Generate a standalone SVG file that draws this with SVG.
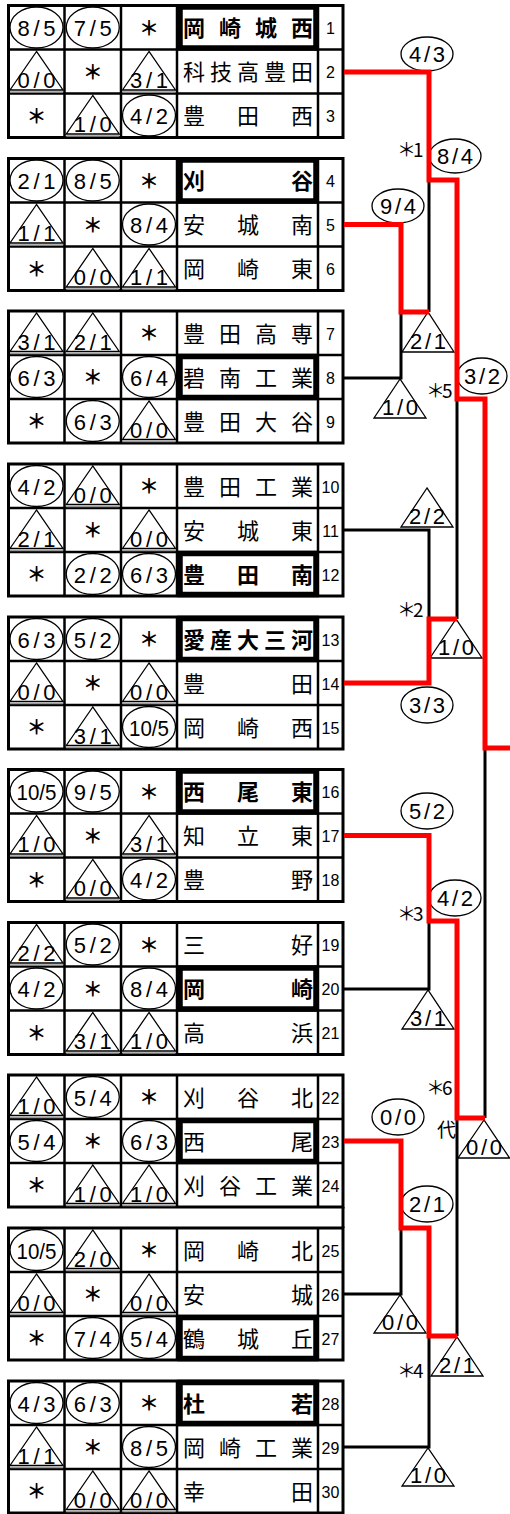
<svg xmlns="http://www.w3.org/2000/svg" width="510" height="1514" viewBox="0 0 510 1514">
<style>
.ln{stroke:#000;stroke-width:3;fill:none}
.in{stroke:#000;stroke-width:2.5}
.box{fill:none;stroke:#000;stroke-width:5.5}
.el{fill:#fff;stroke:#000;stroke-width:1.3}
.tri polygon{fill:#fff;stroke:#000;stroke-width:1.3}
.tri line{stroke:#999;stroke-width:1.5}
.sc{font-family:"Liberation Sans",Arial,sans-serif;font-size:22px;text-anchor:middle}
.ast{font-family:"Noto Sans CJK JP",sans-serif;font-size:20px;font-weight:700;text-anchor:middle}
.nm{font-family:"Noto Sans CJK JP",sans-serif;font-size:22px}
.b{font-weight:700}
.no{font-family:"Liberation Sans",Arial,sans-serif;font-size:16px;text-anchor:middle}
.red{stroke:#f00;stroke-width:5;fill:none}
.blk{stroke:#000;stroke-width:3;fill:none}
.lb{font-family:"Noto Sans CJK JP",sans-serif;font-size:19px}
.bt{fill:#fff;stroke:#000;stroke-width:1.3}
</style>
<defs>
<ellipse id="E" class="el" cx="36.5" cy="22" rx="26.5" ry="20.5"/>
<g id="T" class="tri"><polygon points="36.5,2 10,40.5 63,40.5"/><line x1="10" x2="63" y1="42.5" y2="42.5"/></g>
<g id="grid">
<rect class="ln" x="8.5" y="0" width="334.5" height="132"/>
<line class="in" x1="64.5" x2="64.5" y1="0" y2="132"/>
<line class="in" x1="121" x2="121" y1="0" y2="132"/>
<line class="in" x1="177" x2="177" y1="0" y2="132"/>
<line class="in" x1="318" x2="318" y1="0" y2="132"/>
<line class="in" x1="8.5" x2="343" y1="44" y2="44"/>
<line class="in" x1="8.5" x2="343" y1="88" y2="88"/>
</g>
</defs>
<rect width="510" height="1514" fill="#fff"/>

<g id="table-grid">
<use href="#grid" y="5.5"/>
<use href="#grid" y="158.5"/>
<use href="#grid" y="311"/>
<use href="#grid" y="464"/>
<use href="#grid" y="617"/>
<use href="#grid" y="769.5"/>
<use href="#grid" y="922.5"/>
<use href="#grid" y="1075"/>
<use href="#grid" y="1228"/>
<use href="#grid" y="1381"/>
<line class="ln" x1="343" x2="343" y1="1207" y2="1228"/>
</g>

<!-- Block 1 -->
<g id="team1" transform="translate(0,5.5)">
<use href="#E"/><text class="sc" x="36.5" y="30.5" textLength="38" lengthAdjust="spacing">8/5</text>
<use href="#E" x="56.25"/><text class="sc" x="92.75" y="30.5" textLength="38" lengthAdjust="spacing">7/5</text>
<text class="ast" x="149" y="30">＊</text>
<rect class="box" x="180" y="1.5" width="136" height="41"/>
<text class="nm b" x="183 219 255 291" y="30.5">岡崎城西</text>
<text class="no" x="330.5" y="28.5">1</text>
</g>
<g id="team2" transform="translate(0,49.5)">
<use href="#T"/><text class="sc" x="36.5" y="38.5" textLength="38" lengthAdjust="spacing">0/0</text>
<text class="ast" x="92.75" y="30">＊</text>
<use href="#T" x="112.5"/><text class="sc" x="149" y="38.5" textLength="38" lengthAdjust="spacing">3/1</text>
<text class="nm" x="183 210 237 264 291" y="30.5">科技高豊田</text>
<text class="no" x="330.5" y="28.5">2</text>
</g>
<g id="team3" transform="translate(0,93.5)">
<text class="ast" x="36.5" y="30">＊</text>
<use href="#T" x="56.25"/><text class="sc" x="92.75" y="38.5" textLength="38" lengthAdjust="spacing">1/0</text>
<use href="#E" x="112.5"/><text class="sc" x="149" y="30.5" textLength="38" lengthAdjust="spacing">4/2</text>
<text class="nm" x="183 237 291" y="30.5">豊田西</text>
<text class="no" x="330.5" y="28.5">3</text>
</g>

<!-- Block 2 -->
<g id="team4" transform="translate(0,158.5)">
<use href="#E"/><text class="sc" x="36.5" y="30.5" textLength="38" lengthAdjust="spacing">2/1</text>
<use href="#E" x="56.25"/><text class="sc" x="92.75" y="30.5" textLength="38" lengthAdjust="spacing">8/5</text>
<text class="ast" x="149" y="30">＊</text>
<rect class="box" x="180" y="1.5" width="136" height="41"/>
<text class="nm b" x="183 291" y="30.5">刈谷</text>
<text class="no" x="330.5" y="28.5">4</text>
</g>
<g id="team5" transform="translate(0,202.5)">
<use href="#T"/><text class="sc" x="36.5" y="38.5" textLength="38" lengthAdjust="spacing">1/1</text>
<text class="ast" x="92.75" y="30">＊</text>
<use href="#E" x="112.5"/><text class="sc" x="149" y="30.5" textLength="38" lengthAdjust="spacing">8/4</text>
<text class="nm" x="183 237 291" y="30.5">安城南</text>
<text class="no" x="330.5" y="28.5">5</text>
</g>
<g id="team6" transform="translate(0,246.5)">
<text class="ast" x="36.5" y="30">＊</text>
<use href="#T" x="56.25"/><text class="sc" x="92.75" y="38.5" textLength="38" lengthAdjust="spacing">0/0</text>
<use href="#T" x="112.5"/><text class="sc" x="149" y="38.5" textLength="38" lengthAdjust="spacing">1/1</text>
<text class="nm" x="183 237 291" y="30.5">岡崎東</text>
<text class="no" x="330.5" y="28.5">6</text>
</g>

<!-- Block 3 -->
<g id="team7" transform="translate(0,311)">
<use href="#T"/><text class="sc" x="36.5" y="38.5" textLength="38" lengthAdjust="spacing">3/1</text>
<use href="#T" x="56.25"/><text class="sc" x="92.75" y="38.5" textLength="38" lengthAdjust="spacing">2/1</text>
<text class="ast" x="149" y="30">＊</text>
<text class="nm" x="183 219 255 291" y="30.5">豊田高専</text>
<text class="no" x="330.5" y="28.5">7</text>
</g>
<g id="team8" transform="translate(0,355)">
<use href="#E"/><text class="sc" x="36.5" y="30.5" textLength="38" lengthAdjust="spacing">6/3</text>
<text class="ast" x="92.75" y="30">＊</text>
<use href="#E" x="112.5"/><text class="sc" x="149" y="30.5" textLength="38" lengthAdjust="spacing">6/4</text>
<rect class="box" x="180" y="1.5" width="136" height="41"/>
<text class="nm" x="183 219 255 291" y="30.5">碧南工業</text>
<text class="no" x="330.5" y="28.5">8</text>
</g>
<g id="team9" transform="translate(0,399)">
<text class="ast" x="36.5" y="30">＊</text>
<use href="#E" x="56.25"/><text class="sc" x="92.75" y="30.5" textLength="38" lengthAdjust="spacing">6/3</text>
<use href="#T" x="112.5"/><text class="sc" x="149" y="38.5" textLength="38" lengthAdjust="spacing">0/0</text>
<text class="nm" x="183 219 255 291" y="30.5">豊田大谷</text>
<text class="no" x="330.5" y="28.5">9</text>
</g>

<!-- Block 4 -->
<g id="team10" transform="translate(0,464)">
<use href="#E"/><text class="sc" x="36.5" y="30.5" textLength="38" lengthAdjust="spacing">4/2</text>
<use href="#T" x="56.25"/><text class="sc" x="92.75" y="38.5" textLength="38" lengthAdjust="spacing">0/0</text>
<text class="ast" x="149" y="30">＊</text>
<text class="nm" x="183 219 255 291" y="30.5">豊田工業</text>
<text class="no" x="330.5" y="28.5">10</text>
</g>
<g id="team11" transform="translate(0,508)">
<use href="#T"/><text class="sc" x="36.5" y="38.5" textLength="38" lengthAdjust="spacing">2/1</text>
<text class="ast" x="92.75" y="30">＊</text>
<use href="#T" x="112.5"/><text class="sc" x="149" y="38.5" textLength="38" lengthAdjust="spacing">0/0</text>
<text class="nm" x="183 237 291" y="30.5">安城東</text>
<text class="no" x="330.5" y="28.5">11</text>
</g>
<g id="team12" transform="translate(0,552)">
<text class="ast" x="36.5" y="30">＊</text>
<use href="#E" x="56.25"/><text class="sc" x="92.75" y="30.5" textLength="38" lengthAdjust="spacing">2/2</text>
<use href="#E" x="112.5"/><text class="sc" x="149" y="30.5" textLength="38" lengthAdjust="spacing">6/3</text>
<rect class="box" x="180" y="1.5" width="136" height="41"/>
<text class="nm b" x="183 237 291" y="30.5">豊田南</text>
<text class="no" x="330.5" y="28.5">12</text>
</g>

<!-- Block 5 -->
<g id="team13" transform="translate(0,617)">
<use href="#E"/><text class="sc" x="36.5" y="30.5" textLength="38" lengthAdjust="spacing">6/3</text>
<use href="#E" x="56.25"/><text class="sc" x="92.75" y="30.5" textLength="38" lengthAdjust="spacing">5/2</text>
<text class="ast" x="149" y="30">＊</text>
<rect class="box" x="180" y="1.5" width="136" height="41"/>
<text class="nm b" x="183 210 237 264 291" y="30.5">愛産大三河</text>
<text class="no" x="330.5" y="28.5">13</text>
</g>
<g id="team14" transform="translate(0,661)">
<use href="#T"/><text class="sc" x="36.5" y="38.5" textLength="38" lengthAdjust="spacing">0/0</text>
<text class="ast" x="92.75" y="30">＊</text>
<use href="#T" x="112.5"/><text class="sc" x="149" y="38.5" textLength="38" lengthAdjust="spacing">0/0</text>
<text class="nm" x="183 291" y="30.5">豊田</text>
<text class="no" x="330.5" y="28.5">14</text>
</g>
<g id="team15" transform="translate(0,705)">
<text class="ast" x="36.5" y="30">＊</text>
<use href="#T" x="56.25"/><text class="sc" x="92.75" y="38.5" textLength="38" lengthAdjust="spacing">3/1</text>
<use href="#E" x="112.5"/><text class="sc" x="149" y="30.5" textLength="40" lengthAdjust="spacingAndGlyphs">10/5</text>
<text class="nm" x="183 237 291" y="30.5">岡崎西</text>
<text class="no" x="330.5" y="28.5">15</text>
</g>

<!-- Block 6 -->
<g id="team16" transform="translate(0,769.5)">
<use href="#E"/><text class="sc" x="36.5" y="30.5" textLength="40" lengthAdjust="spacingAndGlyphs">10/5</text>
<use href="#E" x="56.25"/><text class="sc" x="92.75" y="30.5" textLength="38" lengthAdjust="spacing">9/5</text>
<text class="ast" x="149" y="30">＊</text>
<rect class="box" x="180" y="1.5" width="136" height="41"/>
<text class="nm b" x="183 237 291" y="30.5">西尾東</text>
<text class="no" x="330.5" y="28.5">16</text>
</g>
<g id="team17" transform="translate(0,813.5)">
<use href="#T"/><text class="sc" x="36.5" y="38.5" textLength="38" lengthAdjust="spacing">1/0</text>
<text class="ast" x="92.75" y="30">＊</text>
<use href="#T" x="112.5"/><text class="sc" x="149" y="38.5" textLength="38" lengthAdjust="spacing">3/1</text>
<text class="nm" x="183 237 291" y="30.5">知立東</text>
<text class="no" x="330.5" y="28.5">17</text>
</g>
<g id="team18" transform="translate(0,857.5)">
<text class="ast" x="36.5" y="30">＊</text>
<use href="#T" x="56.25"/><text class="sc" x="92.75" y="38.5" textLength="38" lengthAdjust="spacing">0/0</text>
<use href="#E" x="112.5"/><text class="sc" x="149" y="30.5" textLength="38" lengthAdjust="spacing">4/2</text>
<text class="nm" x="183 291" y="30.5">豊野</text>
<text class="no" x="330.5" y="28.5">18</text>
</g>

<!-- Block 7 -->
<g id="team19" transform="translate(0,922.5)">
<use href="#T"/><text class="sc" x="36.5" y="38.5" textLength="38" lengthAdjust="spacing">2/2</text>
<use href="#E" x="56.25"/><text class="sc" x="92.75" y="30.5" textLength="38" lengthAdjust="spacing">5/2</text>
<text class="ast" x="149" y="30">＊</text>
<text class="nm" x="183 291" y="30.5">三好</text>
<text class="no" x="330.5" y="28.5">19</text>
</g>
<g id="team20" transform="translate(0,966.5)">
<use href="#E"/><text class="sc" x="36.5" y="30.5" textLength="38" lengthAdjust="spacing">4/2</text>
<text class="ast" x="92.75" y="30">＊</text>
<use href="#E" x="112.5"/><text class="sc" x="149" y="30.5" textLength="38" lengthAdjust="spacing">8/4</text>
<rect class="box" x="180" y="1.5" width="136" height="41"/>
<text class="nm b" x="183 291" y="30.5">岡崎</text>
<text class="no" x="330.5" y="28.5">20</text>
</g>
<g id="team21" transform="translate(0,1010.5)">
<text class="ast" x="36.5" y="30">＊</text>
<use href="#T" x="56.25"/><text class="sc" x="92.75" y="38.5" textLength="38" lengthAdjust="spacing">3/1</text>
<use href="#T" x="112.5"/><text class="sc" x="149" y="38.5" textLength="38" lengthAdjust="spacing">1/0</text>
<text class="nm" x="183 291" y="30.5">高浜</text>
<text class="no" x="330.5" y="28.5">21</text>
</g>

<!-- Block 8 -->
<g id="team22" transform="translate(0,1075)">
<use href="#T"/><text class="sc" x="36.5" y="38.5" textLength="38" lengthAdjust="spacing">1/0</text>
<use href="#E" x="56.25"/><text class="sc" x="92.75" y="30.5" textLength="38" lengthAdjust="spacing">5/4</text>
<text class="ast" x="149" y="30">＊</text>
<text class="nm" x="183 237 291" y="30.5">刈谷北</text>
<text class="no" x="330.5" y="28.5">22</text>
</g>
<g id="team23" transform="translate(0,1119)">
<use href="#E"/><text class="sc" x="36.5" y="30.5" textLength="38" lengthAdjust="spacing">5/4</text>
<text class="ast" x="92.75" y="30">＊</text>
<use href="#E" x="112.5"/><text class="sc" x="149" y="30.5" textLength="38" lengthAdjust="spacing">6/3</text>
<rect class="box" x="180" y="1.5" width="136" height="41"/>
<text class="nm" x="183 291" y="30.5">西尾</text>
<text class="no" x="330.5" y="28.5">23</text>
</g>
<g id="team24" transform="translate(0,1163)">
<text class="ast" x="36.5" y="30">＊</text>
<use href="#T" x="56.25"/><text class="sc" x="92.75" y="38.5" textLength="38" lengthAdjust="spacing">1/0</text>
<use href="#T" x="112.5"/><text class="sc" x="149" y="38.5" textLength="38" lengthAdjust="spacing">1/0</text>
<text class="nm" x="183 219 255 291" y="30.5">刈谷工業</text>
<text class="no" x="330.5" y="28.5">24</text>
</g>

<!-- Block 9 -->
<g id="team25" transform="translate(0,1228)">
<use href="#E"/><text class="sc" x="36.5" y="30.5" textLength="40" lengthAdjust="spacingAndGlyphs">10/5</text>
<use href="#T" x="56.25"/><text class="sc" x="92.75" y="38.5" textLength="38" lengthAdjust="spacing">2/0</text>
<text class="ast" x="149" y="30">＊</text>
<text class="nm" x="183 237 291" y="30.5">岡崎北</text>
<text class="no" x="330.5" y="28.5">25</text>
</g>
<g id="team26" transform="translate(0,1272)">
<use href="#T"/><text class="sc" x="36.5" y="38.5" textLength="38" lengthAdjust="spacing">0/0</text>
<text class="ast" x="92.75" y="30">＊</text>
<use href="#T" x="112.5"/><text class="sc" x="149" y="38.5" textLength="38" lengthAdjust="spacing">0/0</text>
<text class="nm" x="183 291" y="30.5">安城</text>
<text class="no" x="330.5" y="28.5">26</text>
</g>
<g id="team27" transform="translate(0,1316)">
<text class="ast" x="36.5" y="30">＊</text>
<use href="#E" x="56.25"/><text class="sc" x="92.75" y="30.5" textLength="38" lengthAdjust="spacing">7/4</text>
<use href="#E" x="112.5"/><text class="sc" x="149" y="30.5" textLength="38" lengthAdjust="spacing">5/4</text>
<rect class="box" x="180" y="1.5" width="136" height="41"/>
<text class="nm" x="183 237 291" y="30.5">鶴城丘</text>
<text class="no" x="330.5" y="28.5">27</text>
</g>

<!-- Block 10 -->
<g id="team28" transform="translate(0,1381)">
<use href="#E"/><text class="sc" x="36.5" y="30.5" textLength="38" lengthAdjust="spacing">4/3</text>
<use href="#E" x="56.25"/><text class="sc" x="92.75" y="30.5" textLength="38" lengthAdjust="spacing">6/3</text>
<text class="ast" x="149" y="30">＊</text>
<rect class="box" x="180" y="1.5" width="136" height="41"/>
<text class="nm b" x="183 291" y="30.5">杜若</text>
<text class="no" x="330.5" y="28.5">28</text>
</g>
<g id="team29" transform="translate(0,1425)">
<use href="#T"/><text class="sc" x="36.5" y="38.5" textLength="38" lengthAdjust="spacing">1/1</text>
<text class="ast" x="92.75" y="30">＊</text>
<use href="#E" x="112.5"/><text class="sc" x="149" y="30.5" textLength="38" lengthAdjust="spacing">8/5</text>
<text class="nm" x="183 219 255 291" y="30.5">岡崎工業</text>
<text class="no" x="330.5" y="28.5">29</text>
</g>
<g id="team30" transform="translate(0,1469)">
<text class="ast" x="36.5" y="30">＊</text>
<use href="#T" x="56.25"/><text class="sc" x="92.75" y="38.5" textLength="38" lengthAdjust="spacing">0/0</text>
<use href="#T" x="112.5"/><text class="sc" x="149" y="38.5" textLength="38" lengthAdjust="spacing">0/0</text>
<text class="nm" x="183 291" y="30.5">幸田</text>
<text class="no" x="330.5" y="28.5">30</text>
</g>

<!-- Bracket score marks -->
<g id="s-4-3"><ellipse class="bt" cx="427" cy="54" rx="26" ry="17"/><text class="sc" x="427" y="62" textLength="36" lengthAdjust="spacing">4/3</text></g>
<g id="s-9-4"><ellipse class="bt" cx="398" cy="206" rx="26" ry="17"/><text class="sc" x="398" y="214" textLength="36" lengthAdjust="spacing">9/4</text></g>
<g id="s-8-4"><ellipse class="bt" cx="455" cy="156" rx="26" ry="17"/><text class="sc" x="455" y="164" textLength="36" lengthAdjust="spacing">8/4</text></g>
<g id="s-3-2"><ellipse class="bt" cx="482" cy="376" rx="25" ry="18"/><text class="sc" x="482" y="384" textLength="36" lengthAdjust="spacing">3/2</text></g>
<g id="s-3-3"><ellipse class="bt" cx="427" cy="705" rx="26" ry="18"/><text class="sc" x="427" y="713" textLength="36" lengthAdjust="spacing">3/3</text></g>
<g id="s-5-2"><ellipse class="bt" cx="427" cy="811" rx="26" ry="18"/><text class="sc" x="427" y="819" textLength="36" lengthAdjust="spacing">5/2</text></g>
<g id="s-4-2"><ellipse class="bt" cx="455" cy="898" rx="26" ry="18"/><text class="sc" x="455" y="906" textLength="36" lengthAdjust="spacing">4/2</text></g>
<g id="s-0-0a"><ellipse class="bt" cx="398" cy="1117" rx="26" ry="18"/><text class="sc" x="398" y="1125" textLength="36" lengthAdjust="spacing">0/0</text></g>
<g id="s-2-1a"><ellipse class="bt" cx="427" cy="1204" rx="26" ry="18"/><text class="sc" x="427" y="1212" textLength="36" lengthAdjust="spacing">2/1</text></g>

<g id="t-2-1"><polygon class="bt" points="428,312 402,352 454,352"/><text class="sc" x="428" y="349" textLength="36" lengthAdjust="spacing">2/1</text></g>
<g id="t-1-0a"><polygon class="bt" points="400,379 374,418 426,418"/><text class="sc" x="400" y="415" textLength="36" lengthAdjust="spacing">1/0</text></g>
<g id="t-2-2"><polygon class="bt" points="427,488 401,527 453,527"/><text class="sc" x="427" y="524" textLength="36" lengthAdjust="spacing">2/2</text></g>
<g id="t-1-0b"><polygon class="bt" points="456,619 430,658 482,658"/><text class="sc" x="456" y="655" textLength="36" lengthAdjust="spacing">1/0</text></g>
<g id="t-3-1"><polygon class="bt" points="428,990 402,1029 454,1029"/><text class="sc" x="428" y="1026" textLength="36" lengthAdjust="spacing">3/1</text></g>
<g id="t-0-0f"><polygon class="bt" points="484,1120 458,1158 509.5,1158"/><text class="sc" x="484" y="1155" textLength="36" lengthAdjust="spacing">0/0</text></g>
<g id="t-0-0b"><polygon class="bt" points="400,1295 374,1333 426,1333"/><text class="sc" x="400" y="1330" textLength="36" lengthAdjust="spacing">0/0</text></g>
<g id="t-2-1b"><polygon class="bt" points="457,1337 431,1376 483,1376"/><text class="sc" x="457" y="1373" textLength="36" lengthAdjust="spacing">2/1</text></g>
<g id="t-1-0c"><polygon class="bt" points="428,1448 402,1486 454,1486"/><text class="sc" x="428" y="1483" textLength="36" lengthAdjust="spacing">1/0</text></g>

<g id="labels">
<text class="lb" x="397 413" y="157">＊1</text>
<text class="lb" x="426 442" y="398">＊5</text>
<text class="lb" x="397 413" y="617">＊2</text>
<text class="lb" x="397 413" y="921">＊3</text>
<text class="lb" x="426 442" y="1095">＊6</text>
<text class="lb" x="397 413" y="1378">＊4</text>
<text class="lb" x="437" y="1137">代</text>
</g>

<g id="connectors">
<path class="blk" d="M344 378 H401 V312"/>
<path class="blk" d="M429 180 V312"/>
<path class="blk" d="M344 530 H429 V619"/>
<path class="blk" d="M457 399 V619"/>
<path class="blk" d="M485 748 V1118"/>
<path class="blk" d="M344 989 H429 V921"/>
<path class="blk" d="M344 1294 H401 V1228"/>
<path class="blk" d="M457 1118 V1336"/>
<path class="blk" d="M344 1447 H429 V1336"/>
<path class="red" d="M344 72 H429 V180 H457 V399 H485 V748 H510"/>
<path class="red" d="M344 224.5 H401 V312 H429"/>
<path class="red" d="M344 683 H429 V619 H457"/>
<path class="red" d="M344 835.5 H429 V921 H457 V1118 H485"/>
<path class="red" d="M344 1141 H401 V1228 H429 V1336 H457"/>
</g>
</svg>
